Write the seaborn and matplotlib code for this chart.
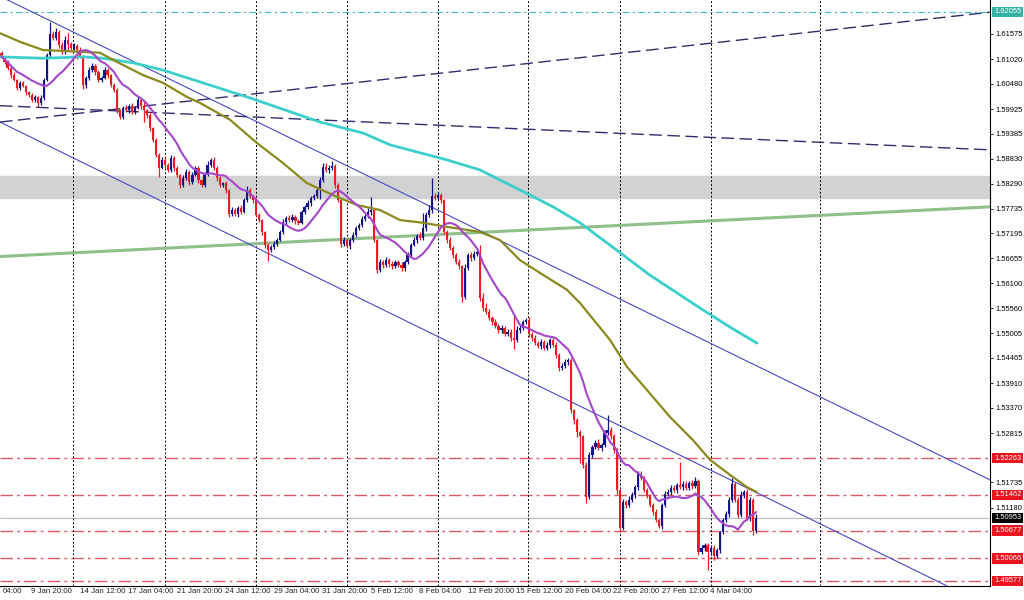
import numpy as np
import pandas as pd
import matplotlib
matplotlib.use("Agg")
import matplotlib.pyplot as plt
import matplotlib.transforms as mtransforms
import seaborn as sns

# ---- data (H4 bars, index = bar number) ----
first_open = 1.6115
closes = [
    1.6107, 1.6096, 1.6083, 1.6067, 1.6056, 1.6039, 1.6050, 1.6043, 1.6030, 1.6023,
    1.6012, 1.6019, 1.6006, 1.6017, 1.6056, 1.6111, 1.6157, 1.6148, 1.6162, 1.6133,
    1.6118, 1.6144, 1.6135, 1.6127, 1.6131, 1.6122, 1.6109, 1.6045, 1.6061, 1.6078,
    1.6087, 1.6074, 1.6056, 1.6061, 1.6078, 1.6067, 1.6045, 1.6034, 1.5990, 1.5975,
    1.5995, 1.5990, 1.5999, 1.5986, 1.5995, 1.6012, 1.5999, 1.5990, 1.5979, 1.5951,
    1.5925, 1.5892, 1.5863, 1.5881, 1.5870, 1.5859, 1.5885, 1.5863, 1.5848, 1.5826,
    1.5841, 1.5855, 1.5833, 1.5848, 1.5863, 1.5837, 1.5826, 1.5848, 1.5870, 1.5881,
    1.5863, 1.5841, 1.5826, 1.5830, 1.5815, 1.5762, 1.5771, 1.5762, 1.5775, 1.5767,
    1.5793, 1.5815, 1.5802, 1.5793, 1.5760, 1.5749, 1.5723, 1.5694, 1.5683, 1.5690,
    1.5697, 1.5705, 1.5723, 1.5745, 1.5754, 1.5749, 1.5756, 1.5747, 1.5743, 1.5767,
    1.5778, 1.5786, 1.5797, 1.5802, 1.5815, 1.5837, 1.5866, 1.5859, 1.5863, 1.5868,
    1.5826, 1.5793, 1.5697, 1.5705, 1.5692, 1.5705, 1.5716, 1.5731, 1.5738, 1.5751,
    1.5758, 1.5767, 1.5771, 1.5705, 1.5639, 1.5657, 1.5650, 1.5661, 1.5653, 1.5648,
    1.5657, 1.5650, 1.5644, 1.5657, 1.5672, 1.5694, 1.5705, 1.5714, 1.5710, 1.5731,
    1.5760, 1.5771, 1.5802, 1.5797, 1.5804, 1.5793, 1.5723, 1.5705, 1.5688, 1.5672,
    1.5657, 1.5648, 1.5580, 1.5644, 1.5672, 1.5666, 1.5675, 1.5679, 1.5578, 1.5556,
    1.5547, 1.5534, 1.5525, 1.5517, 1.5508, 1.5512, 1.5499, 1.5503, 1.5490, 1.5486,
    1.5508, 1.5512, 1.5525, 1.5530, 1.5499, 1.5490, 1.5479, 1.5473, 1.5481, 1.5468,
    1.5475, 1.5486, 1.5475, 1.5453, 1.5424, 1.5429, 1.5437, 1.5442, 1.5332, 1.5310,
    1.5284, 1.5275, 1.5212, 1.5141, 1.5234, 1.5251, 1.5260, 1.5249, 1.5255, 1.5282,
    1.5288, 1.5275, 1.5245, 1.5157, 1.5073, 1.5130, 1.5124, 1.5135, 1.5146, 1.5163,
    1.5192, 1.5183, 1.5157, 1.5146, 1.5124, 1.5108, 1.5091, 1.5078, 1.5124, 1.5148,
    1.5152, 1.5161, 1.5157, 1.5168, 1.5163, 1.5170, 1.5161, 1.5172, 1.5166, 1.5177,
    1.5021, 1.5030, 1.5036, 1.5021, 1.5030, 1.5012, 1.5025, 1.5064, 1.5091, 1.5104,
    1.5135, 1.5170, 1.5135, 1.5102, 1.5146, 1.5152, 1.5095, 1.5135, 1.5067, 1.5095,
]
# wick lengths in pips above / below the body
wick_up = [
    4, 3, 5, 2, 6, 3, 4, 5, 3, 2,  5, 4, 3, 6, 4, 5, 27, 6, 9, 5,
    6, 8, 15, 5, 7, 4, 6, 3, 5, 7,  6, 4, 5, 3, 6, 4, 3, 5, 4, 3,
    5, 6, 4, 7, 5, 6, 4, 8, 3, 4,  3, 5, 4, 6, 8, 5, 7, 4, 5, 3,
    6, 5, 4, 7, 5, 4, 3, 6, 8, 5,  6, 4, 5, 3, 4, 2, 6, 5, 4, 7,
    5, 8, 4, 3, 5, 4, 3, 2, 4, 5,  6, 4, 5, 7, 4, 5, 6, 3, 4, 5,
    4, 6, 5, 4, 7, 6, 8, 9, 6, 10,  5, 4, 3, 6, 5, 4, 7, 5, 4, 6,
    5, 8, 28, 4, 3, 6, 5, 7, 4, 6,  5, 4, 6, 5, 7, 4, 6, 5, 8, 33,
    6, 10, 40, 7, 6, 5, 3, 4, 6, 5,  4, 6, 3, 8, 5, 6, 7, 4, 15, 12,
    10, 6, 5, 8, 4, 6, 5, 7, 6, 50,  8, 6, 5, 4, 6, 5, 7, 4, 6, 5,
    6, 5, 4, 7, 5, 6, 8, 5, 4, 3,  5, 4, 3, 6, 7, 5, 6, 8, 5, 7,
    33, 6, 5, 4, 3, 7, 5, 8, 6, 5,  7, 6, 4, 5, 3, 4, 6, 5, 4, 7,
    8, 6, 7, 5, 50, 6, 7, 5, 6, 8,  3, 6, 5, 4, 6, 5, 4, 3, 5, 6,
    7, 13, 5, 6, 8, 5, 6, 7, 4, 8,
]
wick_dn = [
    3, 5, 4, 6, 3, 5, 4, 3, 6, 4,  5, 3, 10, 4, 5, 3, 4, 5, 3, 6,
    5, 4, 15, 6, 4, 20, 5, 8, 6, 4,  5, 6, 4, 5, 3, 6, 5, 4, 7, 5,
    4, 5, 6, 4, 5, 3, 6, 25, 5, 6,  4, 5, 20, 3, 6, 5, 4, 7, 5, 6,
    5, 4, 6, 5, 3, 6, 5, 4, 3, 5,  4, 6, 5, 4, 7, 6, 5, 4, 6, 5,
    3, 4, 5, 6, 4, 5, 6, 7, 23, 4,  5, 4, 3, 5, 6, 4, 5, 6, 4, 3,
    5, 4, 6, 3, 4, 20, 5, 4, 6, 5,  6, 5, 7, 4, 5, 6, 4, 5, 3, 4,
    5, 4, 6, 5, 7, 4, 6, 5, 8, 6,  4, 5, 7, 6, 4, 5, 3, 6, 4, 5,
    5, 4, 6, 5, 4, 6, 5, 7, 4, 6,  5, 6, 10, 4, 5, 6, 4, 5, 7, 6,
    5, 4, 6, 5, 7, 6, 5, 4, 6, 20,  5, 6, 4, 5, 7, 6, 5, 4, 6, 5,
    4, 6, 5, 7, 6, 5, 4, 5, 6, 8,  10, 60, 8, 12, 5, 6, 4, 5, 6, 4,
    5, 6, 7, 8, 8, 5, 6, 4, 5, 7,  6, 5, 4, 7, 5, 6, 4, 5, 6, 5,
    4, 6, 5, 7, 5, 6, 4, 5, 6, 4,  6, 5, 7, 40, 6, 8, 5, 6, 4, 5,
    6, 4, 5, 6, 5, 7, 4, 6, 10, 5,
]

# moving averages (bar index, price)
ma_mid_bar = [-0.5, 6.1, 13.7, 26.9, 32.5, 38.1, 46.7, 53.3, 61.2, 65.5, 75.4, 84.3,
              92.9, 100.8, 110.7, 117.3, 124.9, 131.5, 139.1, 147.0, 157.9, 164.5,
              171.1, 177.7, 186.6, 190.9, 200.8, 206.4, 213.0, 220.6, 228.2, 233.8,
              241.4, 246.0, 249.3]
ma_mid_val = [1.6159, 1.6140, 1.6122, 1.6118, 1.6116, 1.6096, 1.6067, 1.6050, 1.6019,
              1.6006, 1.5969, 1.5918, 1.5874, 1.5830, 1.5800, 1.5782, 1.5771, 1.5749,
              1.5743, 1.5734, 1.5723, 1.5705, 1.5661, 1.5633, 1.5596, 1.5567, 1.5486,
              1.5427, 1.5376, 1.5317, 1.5266, 1.5223, 1.5185, 1.5163, 1.5152]
ma_long_bar = [-0.5, 13.7, 26.9, 33.5, 43.4, 53.3, 65.5, 82.0, 105.1, 119.3, 128.2,
               147.0, 157.9, 171.1, 182.0, 190.9, 200.8, 214.0, 230.5, 240.4, 249.3]
ma_long_val = [1.6107, 1.6104, 1.6107, 1.6104, 1.6094, 1.6078, 1.6052, 1.6017, 1.5964,
               1.5940, 1.5914, 1.5881, 1.5859, 1.5815, 1.5778, 1.5743, 1.5694, 1.5628,
               1.5556, 1.5514, 1.5479]
ma_fast_period = 14

# drawn objects: trend lines (bar0, price0, bar1, price1)
channel_upper = (-0.5, 1.6240, 326.2, 1.5179)
channel_lower = (-0.5, 1.5964, 326.2, 1.4900)
dash_rising = (-0.5, 1.5964, 326.2, 1.6205)
dash_falling = (-0.5, 1.6000, 326.2, 1.5903)
green_line = (-0.5, 1.5669, 326.2, 1.5778)
zone = (1.5797, 1.5846)
red_levels = [1.52263, 1.51462, 1.50677, 1.50066, 1.49577]
teal_level = 1.62055
last_price = 1.50953

axis_prices = [1.61575, 1.61020, 1.60480, 1.59925, 1.59385, 1.58830, 1.58290, 1.57735,
               1.57195, 1.56655, 1.56100, 1.55560, 1.55005, 1.54465, 1.53910, 1.53370,
               1.52815, 1.51735, 1.51180]
# first label is cut by the left edge in the original, only its time shows
date_labels = ["04:00", "9 Jan 20:00", "14 Jan 12:00", "17 Jan 04:00",
               "21 Jan 20:00", "24 Jan 12:00", "29 Jan 04:00", "31 Jan 20:00",
               "5 Feb 12:00", "8 Feb 04:00", "12 Feb 20:00", "15 Feb 12:00",
               "20 Feb 04:00", "22 Feb 20:00", "27 Feb 12:00", "4 Mar 04:00"]
date_bars = [-7, 9, 25, 41, 57, 73, 89, 105, 121, 137, 153, 169, 185, 201, 217, 233]
week_bars = [23.5, 53.8, 83.9, 114.0, 144.0, 173.8, 204.0, 234.1, 270.1]

# ---- build OHLC ----
c = np.array(closes)
o = np.concatenate([[first_open], c[:-1]])
hi = np.maximum(o, c) + np.array(wick_up) * 0.0001
lo = np.minimum(o, c) - np.array(wick_dn) * 0.0001
idx = np.arange(len(c))
bull = c >= o

sns.set_style("white")
plt.rcParams['font.family'] = ['Liberation Sans', 'DejaVu Sans']

fig = plt.figure(figsize=(10.24, 6.0), dpi=100)
ax = fig.add_axes([0, 14 / 600, 990 / 1024, 586 / 600])

BULL = "#14148a"
BEAR = "#ec1c24"
FS = 5.7     # date labels
FSY = 5.45   # price labels

# support/resistance zone and horizontal levels
ax.axhspan(zone[0], zone[1], color="#d2d2d2", zorder=0)
for lv in red_levels:
    ax.axhline(lv, color="#df5a62", lw=1.0, ls=(0, (9, 3, 2, 3)), zorder=1)
ax.axhline(teal_level, color="#40b8c0", lw=0.8, ls=(0, (6, 3, 2, 3)), zorder=1)
ax.axhline(last_price, color="#c0c0c0", lw=0.8, zorder=1)
for wb in week_bars:
    ax.axvline(wb, color="black", lw=0.7, ls=(0, (2, 2)), zorder=1)

# trend lines
def seg(line, **kw):
    ax.plot([line[0], line[2]], [line[1], line[3]], **kw)

seg(channel_upper, color="#4848c8", lw=0.8, zorder=3)
seg(channel_lower, color="#4848c8", lw=0.8, zorder=3)
seg(dash_rising, color="#2e2e6e", lw=1.0, ls=(0, (9, 4)), zorder=3)
seg(dash_falling, color="#2e2e6e", lw=1.0, ls=(0, (9, 4)), zorder=3)
seg(green_line, color="#90c08a", lw=2.2, zorder=2)

# candles
cols = np.where(bull, BULL, BEAR)
ax.vlines(idx, lo, hi, colors=cols, lw=0.9, zorder=4)
ax.bar(idx, np.maximum(np.abs(c - o), 0.00005), bottom=np.minimum(o, c),
       width=0.72, color=cols, linewidth=0, zorder=5)

# moving averages
fast = pd.Series(c).rolling(ma_fast_period, min_periods=1).mean()
sns.lineplot(x=ma_long_bar, y=ma_long_val, ax=ax, color="#3cd0cc", lw=2.0,
             sort=False, estimator=None, zorder=6)
sns.lineplot(x=ma_mid_bar, y=ma_mid_val, ax=ax, color="#8c8a1e", lw=1.6,
             sort=False, estimator=None, zorder=6)
sns.lineplot(x=idx, y=fast.values, ax=ax, color="#a447c8", lw=1.5,
             sort=False, estimator=None, zorder=6)

# axes styling
for s in ["left", "top"]:
    ax.spines[s].set_visible(False)
for s in ["right", "bottom"]:
    ax.spines[s].set_color("black")
    ax.spines[s].set_linewidth(0.8)
ax.yaxis.tick_right()
ax.set_yticks(axis_prices)
ax.set_yticklabels(["%.5f" % p for p in axis_prices])
ax.tick_params(axis="y", direction="out", length=2.5, width=0.6, pad=1.5,
               labelsize=FSY, colors="black")
ax.set_xticks(date_bars)
ax.set_xticklabels([])
ax.tick_params(axis="x", direction="out", length=3, width=0.6)
ax.set_xlabel("")
ax.set_ylabel("")
# limits last: set_xticks would otherwise widen the view
ax.set_xlim(-0.5, 326.2)
ax.set_ylim(1.49461, 1.62318)

trx = mtransforms.blended_transform_factory(ax.transData, ax.transAxes)
for b, lab in zip(date_bars, date_labels):
    ax.text(max(b + 0.8, 0.4), -0.004, lab, transform=trx, ha="left", va="top",
            fontsize=FS, clip_on=False)

tr_y = mtransforms.blended_transform_factory(ax.transAxes, ax.transData)
def price_box(p, fc, tc="white"):
    ax.text(1.0042, p, "%.5f" % p, transform=tr_y, ha="left", va="center",
            fontsize=FSY, color=tc, clip_on=False, zorder=10,
            bbox=dict(boxstyle="square,pad=0.22", fc=fc, ec="none"))

for lv in red_levels:
    price_box(lv, "#e8141e")
price_box(teal_level, "#34b2a4")
price_box(last_price, "black")

fig.savefig("out.png", dpi=100)
